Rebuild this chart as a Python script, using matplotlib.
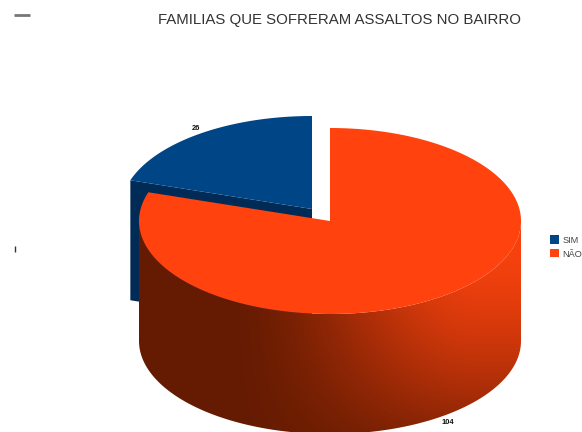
import numpy as np
import matplotlib
matplotlib.use("Agg")
import matplotlib.pyplot as plt
from matplotlib.patches import Patch, Polygon

plt.rcParams["font.family"] = ["Liberation Sans", "DejaVu Sans"]

# Survey answers
categories = ["SIM", "NÃO"]
counts = [26, 104]
title = "FAMILIAS QUE SOFRERAM ASSALTOS NO BAIRRO"

BLUE, BLUE_DARK = "#004586", "#002b57"
ORANGE = "#ff420e"

W, H = 582, 432
fig = plt.figure(figsize=(W / 100, H / 100), dpi=100)
ax = fig.add_axes([0, 0, 1, 1])
ax.set_xlim(0, W)
ax.set_ylim(H, 0)
ax.axis("off")

# Pie geometry in pixel space: ellipse radii, extrusion depth, centre
RX, RY, DEPTH = 191, 93, 120
CX, CY = 330, 221
EXPLODE = (-18, -12)


def rim(theta, cx, cy):
    """Point on the ellipse; theta in radians, clockwise from 12 o'clock."""
    return cx + RX * np.sin(theta), cy - RY * np.cos(theta)


# The orange slice runs clockwise from 12 o'clock, the blue one closes the turn.
split = 2 * np.pi * counts[1] / sum(counts)

# Blue slice, pulled away from the centre
bx, by = CX + EXPLODE[0], CY + EXPLODE[1]
t_blue = np.linspace(split, 2 * np.pi, 120)
ex, ey = rim(split, bx, by)
ax.add_patch(Polygon([(ex, ey), (bx, by), (bx, by + DEPTH), (ex, ey + DEPTH)],
                     closed=True, fc=BLUE_DARK, ec="none", zorder=1))
xs, ys = rim(t_blue, bx, by)
ax.add_patch(Polygon(np.r_[np.c_[xs, ys], [[bx, by]]], closed=True,
                     fc=BLUE, ec="none", zorder=2))

# Orange slice: the side wall is shaded with an image clipped to its outline
t_wall = np.linspace(np.pi / 2, 1.5 * np.pi, 240)
xs, ys = rim(t_wall, CX, CY)
wall = np.r_[np.c_[xs, ys], np.c_[xs[::-1], ys[::-1] + DEPTH]]

gx, gy = np.meshgrid(np.arange(W) + 0.5, np.arange(H) + 0.5)
s = np.clip((gx - 220) / 260, 0, 1)
across = s * s * (3 - 2 * s)
down = np.clip((gy - 240) / 190, 0, 1) ** 1.5
light = np.clip(across * (1.0 - 0.75 * down), 0, 1)
dark_rgb = np.array([0x64, 0x1b, 0x02]) / 255
bright_rgb = np.array([0xf8, 0x42, 0x0e]) / 255
shade = dark_rgb + (bright_rgb - dark_rgb) * light[..., None]
img = ax.imshow(shade, extent=(0, W, H, 0), aspect="auto", zorder=3,
                interpolation="bilinear")
wall_patch = Polygon(wall, closed=True, fc="none", ec="none",
                     transform=ax.transData)
ax.add_patch(wall_patch)
img.set_clip_path(wall_patch)
ax.set_xlim(0, W)
ax.set_ylim(H, 0)

t_top = np.linspace(0, split, 400)
xs, ys = rim(t_top, CX, CY)
ax.add_patch(Polygon(np.r_[np.c_[xs, ys], [[CX, CY]]], closed=True,
                     fc=ORANGE, ec="none", zorder=4))

# Value labels
ax.text(196, 129, str(counts[0]), fontsize=5.4, fontweight="bold",
        color="#111111", ha="center", va="center", zorder=5)
ax.text(448, 422, str(counts[1]), fontsize=5.4, fontweight="bold",
        color="#111111", ha="center", va="center", zorder=5)

ax.text(340, 20, title, fontsize=10.8, color="#333333", ha="center",
        va="center", zorder=5)

# Small stray marks on the page
ax.plot([14, 30], [14.5, 14.5], color="#777777", lw=2.0,
        solid_capstyle="butt", zorder=5)
ax.plot([15, 15], [246, 252], color="#333333", lw=1.0,
        solid_capstyle="butt", zorder=5)

handles = [Patch(fc=BLUE, ec="none"), Patch(fc=ORANGE, ec="none")]
ax.legend(handles, categories, loc="center left",
          bbox_to_anchor=(549.5 / W, 1 - 247 / H), frameon=False, fontsize=6.6,
          labelcolor="#444444", handlelength=1.0, handleheight=1.0,
          handletextpad=0.4, labelspacing=0.5, borderpad=0, borderaxespad=0)

fig.savefig("out.png", dpi=100)
